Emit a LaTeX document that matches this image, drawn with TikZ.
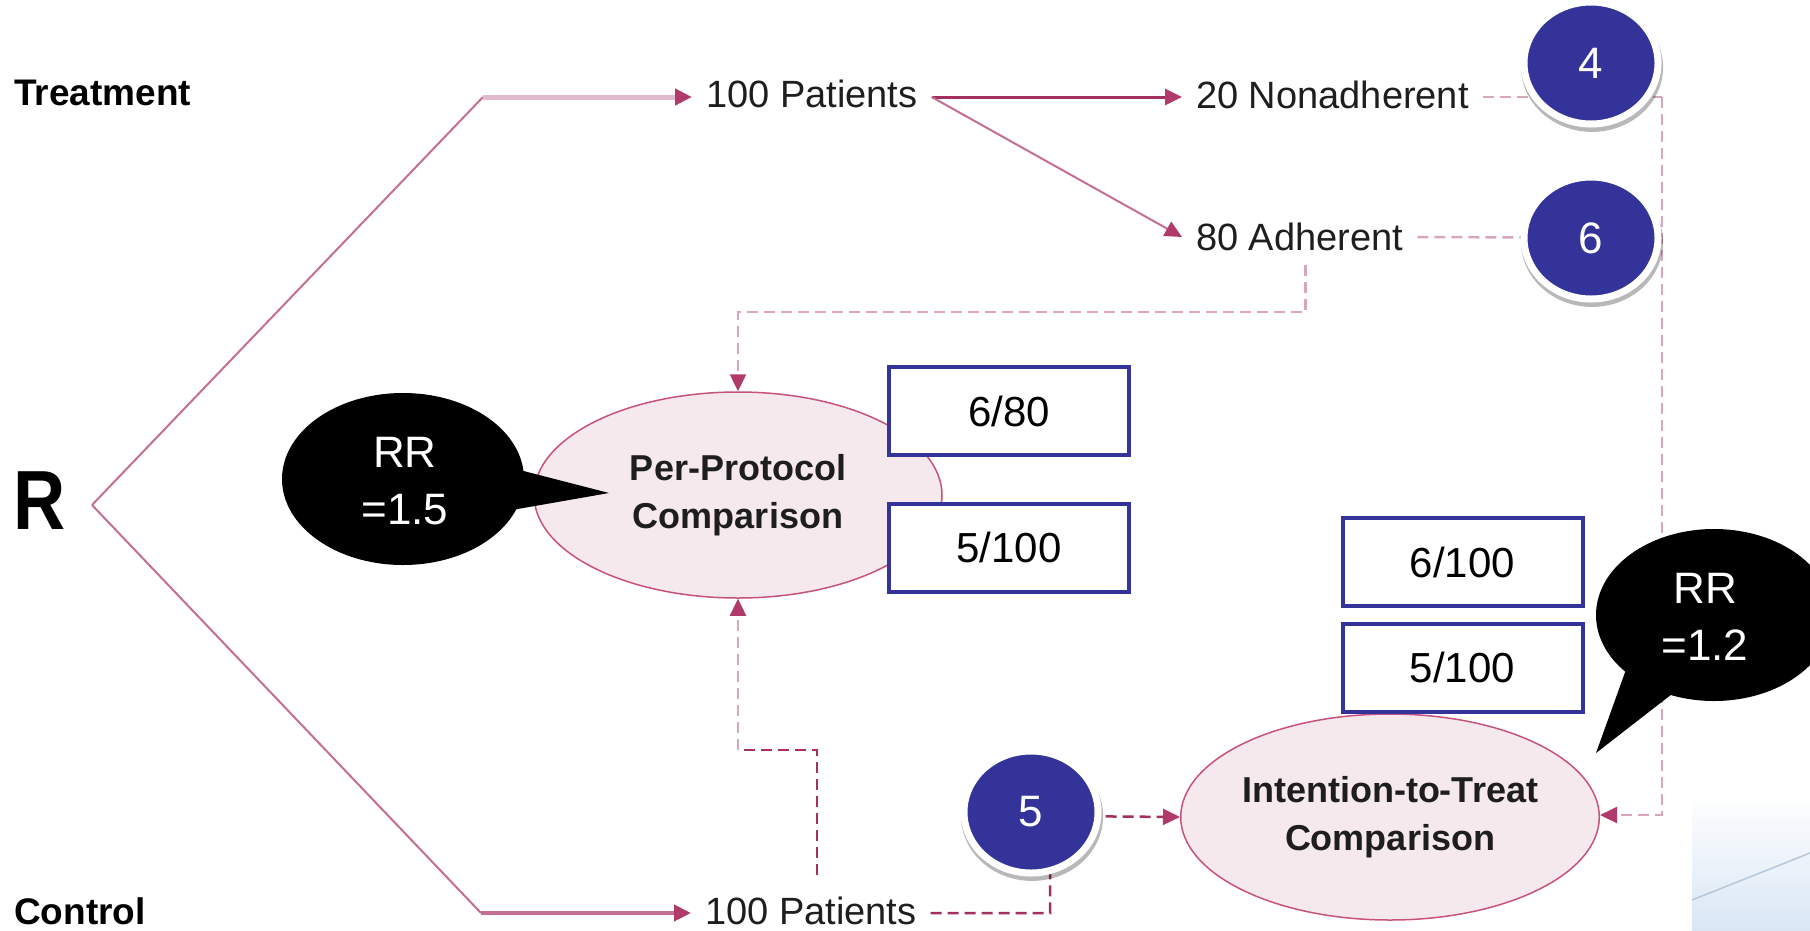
\documentclass[tikz,border=0pt]{standalone}
\usepackage{fontspec}
\setmainfont{Liberation Sans}
\usetikzlibrary{arrows.meta,shapes.geometric,shadows,backgrounds}
\definecolor{navy}{HTML}{333399}
\definecolor{darkmag}{HTML}{A3305E}
\definecolor{tipmag}{HTML}{B03A6A}
\definecolor{midmag}{HTML}{C46E94}
\definecolor{lightmag}{HTML}{DAA6BC}
\definecolor{palepink}{HTML}{E3BACB}
\definecolor{ellfill}{HTML}{F5E9ED}
\definecolor{ellline}{HTML}{C8527E}
\definecolor{txt}{HTML}{1E1E1E}
\definecolor{bgblue}{HTML}{D9E6F4}
\definecolor{bgline}{HTML}{B4C8DA}
\begin{document}
\begin{tikzpicture}[x=1pt,y=-1pt,
  lbl/.style={inner xsep=14pt, inner ysep=0pt, anchor=west, text=txt, font=\fontsize{38}{44}\selectfont},
  grp/.style={inner sep=0pt, anchor=west, text=black, font=\bfseries\fontsize{37}{44}\selectfont},
  cmp/.style={ellipse, draw=ellline, line width=1.5pt, fill=ellfill, minimum width=408pt, minimum height=206pt, inner sep=0pt, align=center, text=txt, font=\bfseries\fontsize{36}{48}\selectfont},
  numc/.style={ellipse, fill=navy, draw=white, line width=7pt, minimum width=134pt, minimum height=122pt, inner sep=0pt, text=white, font=\fontsize{44}{50}\selectfont, general shadow={shadow scale=1.06, shadow xshift=1pt, shadow yshift=-4pt, fill=black, opacity=0.28}},
  frac/.style={draw=navy, line width=4pt, fill=white, minimum width=240pt, minimum height=88pt, inner sep=0pt, font=\fontsize{42}{48}\selectfont},
  bubble/.style={ellipse, fill=black, inner sep=0pt},
  rrtxt/.style={text=white, align=center, font=\fontsize{44}{57}\selectfont, inner sep=0pt},
  tip/.style={-{Triangle[length=17pt,width=16pt,color=tipmag]}},
  dsh/.style={dash pattern=on 11pt off 6pt, line width=2.5pt}
]
\useasboundingbox (0,0) rectangle (1810,930);

% coordinates
\coordinate (rtip) at (92,505);
\coordinate (telbow) at (483,97);
\coordinate (celbow) at (481,913);
\coordinate (vtop) at (1662,97);
\coordinate (vmid) at (1662,238);
\coordinate (vbot) at (1662,815);
\coordinate (k1) at (738,312);
\coordinate (k2) at (738,750);
\coordinate (k3) at (1050,816);

% labels
\node[inner sep=0pt, font=\bfseries\fontsize{84}{90}\selectfont] (rlab) at (40,501) {\scalebox{0.86}[1]{R}};
\node[grp] (treat) at (14,93) {Treatment};
\node[grp] (ctrl) at (14,911) {Control};
\node[lbl] (tp) at (692,94) {100 Patients};
\node[lbl] (cp) at (691,911) {100 Patients};
\node[lbl] (non) at (1182,95) {20 Nonadherent};
\node[lbl] (adh) at (1182,237) {80 Adherent};

% comparison ellipses
\node[cmp] (pp) at (738,495) {Per-Protocol\\Comparison};
\node[cmp] (itt) at (1390,817) {Intention-to-Treat\\Comparison};

% fraction boxes
\node[frac] (b1) at (1009,411) {6/80};
\node[frac] (b2) at (1009,547.5) {5/100};
\node[frac] (b3) at (1462.5,562) {6/100};
\node[frac] (b4) at (1462.5,667.5) {5/100};

% RR bubbles
\begin{scope}
  \clip (0,0) rectangle (1810,930);
  \node[bubble, minimum width=242pt, minimum height=172pt] (rr1) at (403,479) {};
  \fill[black] (512,468) -- (609,493) -- (512,510) -- cycle;
  \node[bubble, minimum width=236pt, minimum height=172pt] (rr2) at (1714,615) {};
  \fill[black] (1628,664) -- (1596,753) -- (1672,694) -- cycle;
\end{scope}
\node[rrtxt] (rr1t) at (405,481) {RR\\=1.5};
\node[rrtxt] (rr2t) at (1705,617) {RR\\=1.2};

% numbered circles
\node[numc] (c4) at (1591,63) {4};
\node[numc] (c6) at (1591,238) {6};
\node[numc] (c5) at (1031,812) {5};

% connectors
\begin{scope}[on background layer]
  \shade[top color=white, bottom color=bgblue] (1692,793) rectangle (1810,930);
  \draw[bgline, line width=1.5pt] (1692,900) -- (1810,853);
  % randomisation branches
  \draw[midmag, line width=2pt] (rtip) -- (telbow);
  \draw[palepink, line width=5pt, tip] (telbow) -- (telbow -| tp.west);
  \draw[midmag, line width=2pt] (rtip) -- (celbow);
  \draw[midmag, line width=4pt, tip] (celbow) -- (celbow -| cp.west);
  % treatment split
  \draw[darkmag, line width=3pt, tip] (tp.east |- telbow) -- (non.west |- telbow);
  \draw[midmag, line width=2pt, tip] (tp.east |- telbow) -- (adh.west);
  % to ITT via right side
  \draw[lightmag, dsh] (non.east |- telbow) -- (vtop);
  \draw[lightmag, dsh] (adh.east) -- (vmid);
  \draw[lightmag, dsh, tip] (vtop) -- (vbot) -- (itt.east |- vbot);
  % adherent to per-protocol
  \draw[lightmag, dsh, tip] ([xshift=6pt,yshift=-14pt]adh.south) |- (k1) -- (pp.north);
  % control to per-protocol
  \draw[darkmag, dsh] ([xshift=6pt,yshift=22pt]cp.north) |- (k2);
  \draw[lightmag, dsh, tip] (k2) -- (pp.south);
  % control to ITT
  \draw[darkmag, dsh, tip] (cp.east |- celbow) -| (k3) -- (itt.west);
\end{scope}
\end{tikzpicture}
\end{document}
